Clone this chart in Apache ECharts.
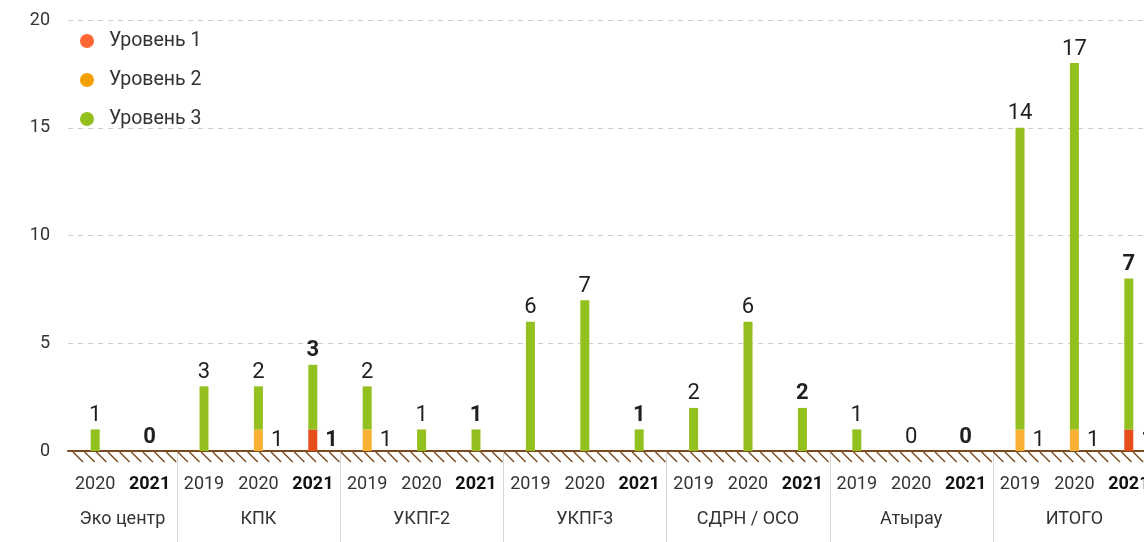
<!DOCTYPE html>
<html><head><meta charset="utf-8">
<script src="https://cdn.jsdelivr.net/npm/echarts@6/dist/echarts.min.js"></script>
<style>html,body{margin:0;padding:0;background:#fff}#c{width:1144px;height:542px}</style>
</head><body><div id="c"></div>
<script>
const groups = ['Эко центр', 'КПК', 'УКПГ-2', 'УКПГ-3', 'СДРН / ОСО', 'Атырау', 'ИТОГО'];
const groupYears = [
  ['2020', '2021'],
  ['2019', '2020', '2021'],
  ['2019', '2020', '2021'],
  ['2019', '2020', '2021'],
  ['2019', '2020', '2021'],
  ['2019', '2020', '2021'],
  ['2019', '2020', '2021']
];
const seriesNames = ['Уровень 1', 'Уровень 2', 'Уровень 3'];
const level1 = [null, null, null, null, 1, null, null, null, null, null, null, null, null, null, null, null, null, null, null, 1];
const level2 = [null, null, null, 1, null, 1, null, null, null, null, null, null, null, null, null, null, null, 1, 1, null];
const level3 = [1, 0, 3, 2, 3, 2, 1, 1, 6, 7, 1, 2, 6, 2, 1, 0, 0, 14, 17, 7];
const yTicks = [0, 5, 10, 15, 20];

const categories = [];
const years = [];
const groupRanges = [];
groups.forEach((g, gi) => {
  const start = categories.length;
  groupYears[gi].forEach(y => { categories.push(g + '|' + y); years.push(y); });
  groupRanges.push([start, categories.length - 1, 0]);
});
const isBold = i => years[i] === '2021';

const FONT = 'Roboto, "Noto Sans", sans-serif';
const TXT = '#1f1f1f';
const barColors = ['#E64E19', '#F8B133', '#93C01F'];
const legendColors = ['#FF6633', '#F59F00', '#93C01F'];
const BROWN = '#7B4A1E';
const HATCH_STEP = 11.65;

function valLabel(pos, dist) {
  return {
    show: true, position: pos, distance: dist,
    formatter: p => (p.value === null || p.value === undefined) ? '' : (isBold(p.dataIndex) ? '{b|' + p.value + '}' : '{n|' + p.value + '}'),
    rich: {
      n: { fontSize: 22, lineHeight: 22, fontFamily: FONT, color: TXT, fontWeight: 'normal' },
      b: { fontSize: 22, lineHeight: 22, fontFamily: FONT, color: TXT, fontWeight: 'bold' }
    }
  };
}

const chart = echarts.init(document.getElementById('c'), null, { renderer: 'canvas' });
const option = {
  animation: false,
  textStyle: { fontFamily: FONT },
  legend: {
    orient: 'vertical', left: 80, top: 31, padding: 0, itemWidth: 14, itemHeight: 14, itemGap: 19,
    icon: 'circle',
    textStyle: { fontSize: 19.5, color: '#333', fontFamily: FONT, padding: [0, 0, 0, 10] },
    data: seriesNames.map((n, i) => ({ name: n, itemStyle: { color: legendColors[i] } }))
  },
  grid: { left: 68, top: 20, bottom: 91, width: 1088, containLabel: false, outerBoundsMode: 'none' },
  xAxis: {
    type: 'category', data: categories,
    axisTick: { show: false },
    axisLine: { lineStyle: { color: BROWN, width: 2 } },
    axisLabel: {
      margin: 24, interval: 0, hideOverlap: false,
      formatter: (v, i) => isBold(i) ? '{b|' + years[i] + '}' : '{n|' + years[i] + '}',
      rich: {
        n: { fontSize: 18, fontFamily: FONT, color: '#333' },
        b: { fontSize: 18, fontFamily: FONT, color: '#111', fontWeight: 'bold' }
      }
    }
  },
  yAxis: {
    type: 'value', min: yTicks[0], max: yTicks[yTicks.length - 1], interval: 5,
    axisLine: { show: false }, axisTick: { show: false },
    axisLabel: { fontSize: 18, color: '#333', margin: 18, fontFamily: FONT },
    splitLine: { lineStyle: { color: '#cccccc', type: [5, 5], width: 1 } }
  },
  series: [
    { name: seriesNames[0], type: 'bar', stack: 's', barWidth: 9, data: level1, itemStyle: { color: barColors[0] }, label: valLabel('right', 8) },
    { name: seriesNames[1], type: 'bar', stack: 's', barWidth: 9, data: level2, itemStyle: { color: barColors[1] }, label: valLabel('right', 8) },
    { name: seriesNames[2], type: 'bar', stack: 's', barWidth: 9, data: level3, itemStyle: { color: barColors[2] }, label: valLabel('top', 3) },
    {
      type: 'custom', silent: true, z: 1,
      data: categories.map((c, i) => [i, 0]),
      encode: { x: 0, y: 1 },
      renderItem: (params, api) => {
        const idx = api.value(0);
        const p = api.coord([idx, 0]);
        const bw = api.size([1, 0])[0];
        const x0 = p[0] - bw / 2;
        const origin = api.coord([0, 0])[0] - bw / 2 + 5;
        const children = [];
        let k = Math.ceil((x0 - origin) / HATCH_STEP);
        for (; origin + k * HATCH_STEP < x0 + bw; k++) {
          const x = origin + k * HATCH_STEP;
          children.push({ type: 'line', shape: { x1: x, y1: p[1] + 1, x2: x + 10, y2: p[1] + 11 }, style: { stroke: BROWN, lineWidth: 1.4 } });
        }
        return { type: 'group', children };
      }
    },
    {
      type: 'custom', silent: true, z: 1,
      data: groupRanges,
      encode: { x: [0, 1], y: 2 },
      renderItem: (params, api) => {
        const s = api.value(0), e = api.value(1);
        const ps = api.coord([s, 0]), pe = api.coord([e, 0]);
        const bw = api.size([1, 0])[0];
        const children = [{
          type: 'text', x: (ps[0] + pe[0]) / 2, y: ps[1] + 68,
          style: { text: groups[params.dataIndex], align: 'center', verticalAlign: 'middle', fontSize: 18, fontFamily: FONT, fill: '#333' }
        }];
        if (s > 0) {
          const lx = Math.round(ps[0] - bw / 2) + 0.5;
          children.push({ type: 'line', shape: { x1: lx, y1: ps[1] + 2, x2: lx, y2: ps[1] + 100 }, style: { stroke: '#d6d6d6', lineWidth: 1 } });
        }
        return { type: 'group', children };
      }
    }
  ]
};
chart.setOption(option);
</script>
</body></html>
